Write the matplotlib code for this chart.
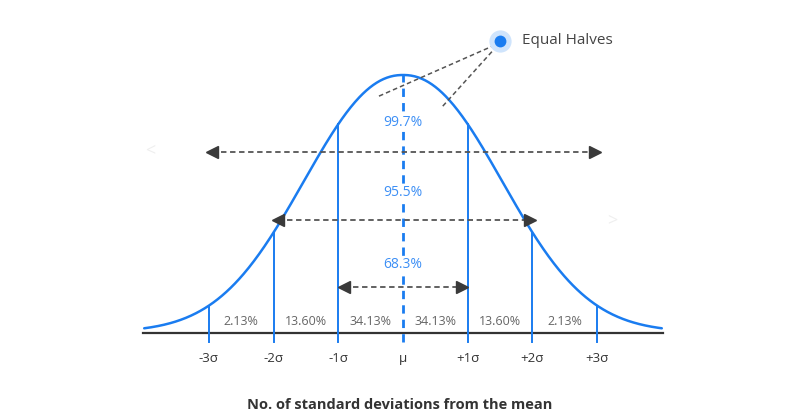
import numpy as np
import matplotlib
matplotlib.use("Agg")
import matplotlib.pyplot as plt

plt.rcParams['font.family'] = ['Open Sans', 'DejaVu Sans']

# ---- data ----
sigma_ticks = [-3, -2, -1, 0, 1, 2, 3]
tick_labels = ["-3σ", "-2σ", "-1σ", "μ", "+1σ", "+2σ", "+3σ"]
band_centers = [-2.5, -1.5, -0.5, 0.5, 1.5, 2.5]
band_labels = ["2.13%", "13.60%", "34.13%", "34.13%", "13.60%", "2.13%"]
range_spans = [1, 2, 3]
range_labels = ["68.3%", "95.5%", "99.7%"]
annotation_text = "Equal Halves"

# bell shape as drawn in the picture (slightly flatter than a true normal)
curve_width = 2.05
curve_power = 2.16
curve_peak = 1.0

BLUE = "#1a7cf0"
LBLUE = "#3d8ff5"
DARK = "#3a3a3a"

W, H = 790, 415
fig = plt.figure(figsize=(W / 100, H / 100), dpi=100)
ax = fig.add_axes([0, 0, 1, 1])
ax.axis('off')

# pixel mapping
X0, SX = 403, 64.7           # px of mean, px per sigma
Y0, PEAK_PX = 332, 75
SY = (Y0 - PEAK_PX) / curve_peak

def dx(px):
    return (px - X0) / SX

def dy(py):
    return (Y0 - py) / SY

ax.set_xlim(dx(0), dx(W))
ax.set_ylim(dy(H), dy(0))

def bell(x):
    return curve_peak * np.exp(-np.abs(np.asarray(x, dtype=float) / curve_width) ** curve_power)

# curve
xs = np.linspace(-4, 4, 600)
ax.plot(xs, bell(xs), color=BLUE, lw=1.8, solid_capstyle='round', zorder=3)

# baseline
ax.plot([-4.02, 4.02], [dy(333), dy(333)], color="#333333", lw=1.6, zorder=2)

# vertical sigma lines
for s in sigma_ticks:
    if s == 0:
        ax.plot([0, 0], [dy(342), bell(0)], color=BLUE, lw=2, ls=(0, (3, 2.2)), zorder=3)
    else:
        ax.plot([s, s], [dy(342), bell(s)], color=BLUE, lw=1.4, zorder=3)

# tick labels
for s, lab in zip(sigma_ticks, tick_labels):
    ax.text(s, dy(358), lab, ha='center', va='center', fontsize=9.5, color="#333333")

# band labels
for c, lab in zip(band_centers, band_labels):
    ax.text(c, dy(321), lab, ha='center', va='center', fontsize=9, color="#666666")

# range arrows
arrow_y = {1: 287, 2: 220, 3: 152}
label_y = {1: 265, 2: 193, 3: 122}
tip = {1: (-0.99, 1.0), 2: (-2.02, 2.05), 3: (-3.03, 3.05)}
off = 5.5 / SX
for s, lab in zip(range_spans, range_labels):
    y = dy(arrow_y[s])
    l, r = tip[s]
    ax.plot([l + off, r - off], [y, y], color="#555555", lw=1.3, ls=(0, (3, 2)), zorder=4)
    ax.plot([l + off], [y], marker='<', ms=8.5, color=DARK, mec=DARK, zorder=5, ls='none')
    ax.plot([r - off], [y], marker='>', ms=8.5, color=DARK, mec=DARK, zorder=5, ls='none')
    ax.text(0, dy(label_y[s]), lab, ha='center', va='center', fontsize=10,
            color=LBLUE, zorder=6,
            bbox=dict(boxstyle='square,pad=0.05', fc='white', ec='none'))

# faint ghost chevrons
ax.text(dx(150), dy(150), "<", ha='center', va='center', fontsize=13, color="#efefef")
ax.text(dx(612), dy(220), ">", ha='center', va='center', fontsize=13, color="#efefef")

# Equal Halves annotation
ax.plot([dx(495), dx(377)], [dy(45), dy(97)], color="#555555", lw=1.1, ls=(0, (3, 2)), zorder=4)
ax.plot([dx(497), dx(442)], [dy(46), dy(107)], color="#555555", lw=1.1, ls=(0, (3, 2)), zorder=4)
ax.plot([dx(500)], [dy(41)], marker='o', ms=16, color="#cfe4fc", mec='none', zorder=6)
ax.plot([dx(500)], [dy(41)], marker='o', ms=8.5, color=BLUE, mec='none', zorder=7)
ax.text(dx(522), dy(41), annotation_text, ha='left', va='center', fontsize=11, color="#444444")

# x label
ax.text(dx(400), dy(405), "No. of standard deviations from the mean", ha='center', va='center',
        fontsize=10.5, fontweight='bold', color="#333333")

fig.savefig("out.png", dpi=100)
